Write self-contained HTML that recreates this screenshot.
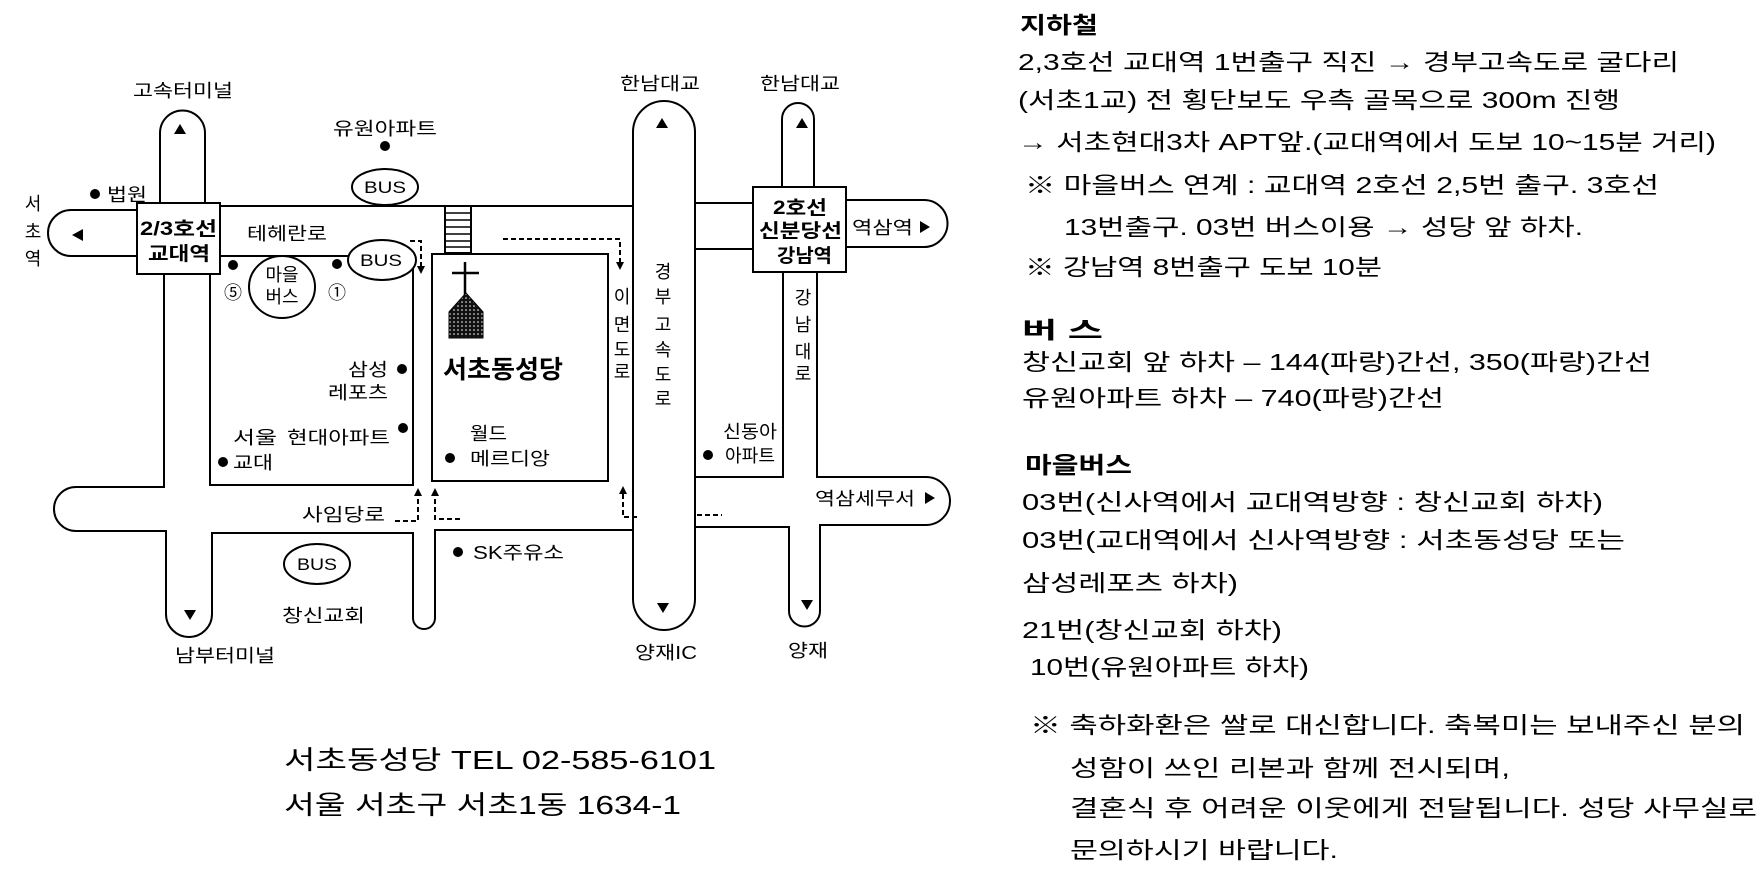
<!DOCTYPE html>
<html><head><meta charset="utf-8"><style>
html,body{margin:0;padding:0;background:#fff;}
svg{display:block;}
text{font-family:"Liberation Sans","Noto Sans CJK KR",sans-serif;fill:#000;}
</style></head><body>
<svg width="1764" height="881" viewBox="0 0 1764 881" xmlns="http://www.w3.org/2000/svg">
<defs>
<pattern id="dots" width="4" height="4" patternUnits="userSpaceOnUse"><rect width="4" height="4" fill="#111"/><circle cx="2" cy="2" r="0.8" fill="#fff"/></pattern>
</defs>
<g fill="none" stroke="#000" stroke-width="2">
<!-- top-left stub -->
<path d="M160,203 L160,133 A22.5,22.5 0 0 1 205,133 L205,203"/>
<!-- left stub -->
<path d="M137,210 L71,210 A23,23 0 0 0 71,256 L137,256"/>
<!-- top road top edge -->
<path d="M220,206 L633,206"/>
<!-- block1 -->
<rect x="210" y="256" width="203" height="229"/>
<!-- vertical road left edge and 사임당로 -->
<path d="M164,274 L164,487 L76,487 A22,22 0 0 0 76,531 L166,531 L166,614 A23,23 0 0 0 212,614 L212,533 L413,533 L413,618 A11,11 0 0 0 435,618 L435,530 L633,530"/>
<!-- church block -->
<rect x="432" y="254" width="176" height="227"/>
<!-- crosswalk -->
<rect x="445" y="206" width="26" height="47"/>
<path d="M445,213 H471 M445,220 H471 M445,227 H471 M445,234 H471 M445,241 H471 M445,247 H471" stroke-width="1.5"/>
<!-- highway -->
<rect x="633" y="101" width="62" height="529" rx="31" ry="31"/>
<!-- right top road -->
<path d="M695,203 L753,203 M695,249 L753,249 L783,249 M783,272 L783,477 L695,477"/>
<!-- gangnam top stub -->
<path d="M782,187 L782,119 A16,16 0 0 1 814,119 L814,187"/>
<!-- 역삼역 stub -->
<path d="M846,200 L924,200 A23.5,23.5 0 0 1 924,247 L846,247"/>
<!-- gangnam below -->
<path d="M817,272 L817,477 L926,477 A24,24 0 0 1 926,525 L820,525 L820,611 A15.5,15.5 0 0 1 789,611 L789,527 L695,527"/>
</g>
<!-- boxes -->
<rect x="137" y="203" width="83" height="71" fill="#fff" stroke="#000" stroke-width="2"/>
<rect x="753" y="187" width="93" height="85" fill="#fff" stroke="#000" stroke-width="2"/>
<!-- ellipses -->
<g fill="#fff" stroke="#000" stroke-width="2">
<ellipse cx="385" cy="187" rx="33" ry="18"/>
<ellipse cx="382" cy="260" rx="34" ry="20"/>
<ellipse cx="317" cy="564" rx="33" ry="20"/>
<ellipse cx="282" cy="287" rx="33" ry="31"/>
</g>
<!-- dashed arrows -->
<g fill="none" stroke="#000" stroke-width="2" stroke-dasharray="5,3">
<path d="M410,241 H421 V266"/>
<path d="M503,239 H620 V262"/>
<path d="M395,521 H418 V496"/>
<path d="M460,519 H435 V496"/>
<path d="M637,517 H623 V494"/>
<path d="M697,515 H722"/>
</g>
<g fill="#000">
<polygon points="417,266 425,266 421,274"/>
<polygon points="616,262 624,262 620,270"/>
<polygon points="414,496 422,496 418,488"/>
<polygon points="431,496 439,496 435,488"/>
<polygon points="619,494 627,494 623,486"/>
<!-- road arrows -->
<polygon points="174,134 186,134 180,124"/>
<polygon points="83,229 83,241 72,235"/>
<polygon points="656,128 668,128 662,118"/>
<polygon points="796,128 808,128 802,118"/>
<polygon points="184,610 196,610 190,620"/>
<polygon points="657,603 669,603 663,613"/>
<polygon points="801,600 813,600 807,610"/>
<polygon points="920,221 920,233 930,227"/>
<polygon points="925,492 925,504 935,498"/>
<!-- dots -->
<circle cx="385" cy="146" r="5"/>
<circle cx="95" cy="194" r="5"/>
<circle cx="233" cy="265" r="5"/>
<circle cx="337" cy="264" r="5"/>
<circle cx="402" cy="369" r="5"/>
<circle cx="403" cy="428" r="5"/>
<circle cx="223" cy="462" r="5"/>
<circle cx="450" cy="458" r="5"/>
<circle cx="708" cy="455" r="5"/>
<circle cx="458" cy="552" r="5"/>
</g>
<!-- church -->
<path d="M465,262 V296 M452,273 H479" stroke="#000" stroke-width="2.5"/>
<polygon points="466,293 483,312 483,338 449,338 449,312" fill="url(#dots)" stroke="#000" stroke-width="1"/>

<!-- map labels -->
<g font-size="18">
<text x="133" y="97" textLength="100" lengthAdjust="spacingAndGlyphs">고속터미널</text>
<text x="333" y="135" textLength="104" lengthAdjust="spacingAndGlyphs">유원아파트</text>
<text x="107" y="201" textLength="40" lengthAdjust="spacingAndGlyphs">법원</text>
<text x="33" y="210" text-anchor="middle">서</text>
<text x="33" y="238" text-anchor="middle">초</text>
<text x="33" y="265" text-anchor="middle">역</text>
<text x="247" y="240" textLength="80" lengthAdjust="spacingAndGlyphs">테헤란로</text>
<text x="282" y="281" text-anchor="middle">마을</text>
<text x="282" y="303" text-anchor="middle">버스</text>
<text x="233" y="299" text-anchor="middle">⑤</text>
<text x="337" y="299" text-anchor="middle">①</text>
<text x="348" y="376" textLength="40" lengthAdjust="spacingAndGlyphs">삼성</text>
<text x="328" y="399" textLength="60" lengthAdjust="spacingAndGlyphs">레포츠</text>
<text x="233" y="444" textLength="44" lengthAdjust="spacingAndGlyphs">서울</text>
<text x="287" y="444" textLength="103" lengthAdjust="spacingAndGlyphs">현대아파트</text>
<text x="233" y="469" textLength="40" lengthAdjust="spacingAndGlyphs">교대</text>
<text x="302" y="521" textLength="83" lengthAdjust="spacingAndGlyphs">사임당로</text>
<text x="282" y="622" textLength="83" lengthAdjust="spacingAndGlyphs">창신교회</text>
<text x="175" y="662" textLength="100" lengthAdjust="spacingAndGlyphs">남부터미널</text>
<text x="473" y="559" textLength="91" lengthAdjust="spacingAndGlyphs">SK주유소</text>
<text x="635" y="659" textLength="62" lengthAdjust="spacingAndGlyphs">양재IC</text>
<text x="788" y="657" textLength="40" lengthAdjust="spacingAndGlyphs">양재</text>
<text x="620" y="90" textLength="80" lengthAdjust="spacingAndGlyphs">한남대교</text>
<text x="760" y="90" textLength="80" lengthAdjust="spacingAndGlyphs">한남대교</text>
<text x="470" y="440" textLength="37" lengthAdjust="spacingAndGlyphs">월드</text>
<text x="470" y="465" textLength="80" lengthAdjust="spacingAndGlyphs">메르디앙</text>
<text x="723" y="438" textLength="54" lengthAdjust="spacingAndGlyphs">신동아</text>
<text x="725" y="462" textLength="50" lengthAdjust="spacingAndGlyphs">아파트</text>
<text x="852" y="234" textLength="61" lengthAdjust="spacingAndGlyphs">역삼역</text>
<text x="815" y="505" textLength="100" lengthAdjust="spacingAndGlyphs">역삼세무서</text>
<text x="622" y="303" text-anchor="middle">이</text>
<text x="622" y="331" text-anchor="middle">면</text>
<text x="622" y="356" text-anchor="middle">도</text>
<text x="622" y="378" text-anchor="middle">로</text>
<text x="663" y="278" text-anchor="middle">경</text>
<text x="663" y="303" text-anchor="middle">부</text>
<text x="663" y="331" text-anchor="middle">고</text>
<text x="663" y="356" text-anchor="middle">속</text>
<text x="663" y="381" text-anchor="middle">도</text>
<text x="663" y="405" text-anchor="middle">로</text>
<text x="803" y="304" text-anchor="middle">강</text>
<text x="803" y="331" text-anchor="middle">남</text>
<text x="803" y="358" text-anchor="middle">대</text>
<text x="803" y="380" text-anchor="middle">로</text>
</g>
<g font-size="17">
<text x="385" y="193" text-anchor="middle" textLength="42" lengthAdjust="spacingAndGlyphs">BUS</text>
<text x="381" y="266" text-anchor="middle" textLength="42" lengthAdjust="spacingAndGlyphs">BUS</text>
<text x="317" y="570" text-anchor="middle" textLength="40" lengthAdjust="spacingAndGlyphs">BUS</text>
</g>
<g font-size="19" font-weight="bold">
<text x="140" y="235" textLength="77" lengthAdjust="spacingAndGlyphs">2/3호선</text>
<text x="148" y="260" textLength="62" lengthAdjust="spacingAndGlyphs">교대역</text>
<text x="773" y="214" textLength="54" lengthAdjust="spacingAndGlyphs">2호선</text>
<text x="759" y="237" textLength="83" lengthAdjust="spacingAndGlyphs">신분당선</text>
<text x="777" y="262" textLength="55" lengthAdjust="spacingAndGlyphs">강남역</text>
</g>
<text x="443" y="378" font-size="25" font-weight="bold" textLength="120" lengthAdjust="spacingAndGlyphs">서초동성당</text>

<!-- bottom-left -->
<g font-size="26">
<text x="284" y="769" textLength="432" lengthAdjust="spacingAndGlyphs">서초동성당  TEL 02-585-6101</text>
<text x="284" y="814" textLength="397" lengthAdjust="spacingAndGlyphs">서울 서초구 서초1동 1634-1</text>
</g>

<!-- right text -->
<g font-size="23">
<text x="1020" y="33" font-weight="bold" textLength="78" lengthAdjust="spacingAndGlyphs">지하철</text>
<text x="1018" y="70" textLength="661" lengthAdjust="spacingAndGlyphs">2,3호선 교대역 1번출구 직진 → 경부고속도로 굴다리</text>
<text x="1018" y="108" textLength="602" lengthAdjust="spacingAndGlyphs">(서초1교) 전 횡단보도 우측 골목으로 300m 진행</text>
<text x="1018" y="150" textLength="698" lengthAdjust="spacingAndGlyphs">→ 서초현대3차 APT앞.(교대역에서 도보 10~15분 거리)</text>
<text x="1025" y="193" textLength="634" lengthAdjust="spacingAndGlyphs">※ 마을버스 연계 : 교대역 2호선 2,5번 출구. 3호선</text>
<text x="1064" y="235" textLength="519" lengthAdjust="spacingAndGlyphs">13번출구. 03번 버스이용 → 성당 앞 하차.</text>
<text x="1025" y="275" textLength="357" lengthAdjust="spacingAndGlyphs">※ 강남역 8번출구 도보 10분</text>
<text x="1022" y="338" font-weight="bold" textLength="81" lengthAdjust="spacingAndGlyphs">버   스</text>
<text x="1022" y="370" textLength="630" lengthAdjust="spacingAndGlyphs">창신교회 앞 하차 – 144(파랑)간선, 350(파랑)간선</text>
<text x="1022" y="406" textLength="422" lengthAdjust="spacingAndGlyphs">유원아파트 하차 – 740(파랑)간선</text>
<text x="1025" y="473" font-weight="bold" textLength="107" lengthAdjust="spacingAndGlyphs">마을버스</text>
<text x="1022" y="510" textLength="581" lengthAdjust="spacingAndGlyphs">03번(신사역에서 교대역방향 : 창신교회 하차)</text>
<text x="1022" y="548" textLength="603" lengthAdjust="spacingAndGlyphs">03번(교대역에서 신사역방향 : 서초동성당 또는</text>
<text x="1022" y="591" textLength="216" lengthAdjust="spacingAndGlyphs">삼성레포츠 하차)</text>
<text x="1022" y="638" textLength="260" lengthAdjust="spacingAndGlyphs">21번(창신교회 하차)</text>
<text x="1030" y="675" textLength="279" lengthAdjust="spacingAndGlyphs">10번(유원아파트 하차)</text>
<text x="1030" y="733" textLength="715" lengthAdjust="spacingAndGlyphs">※ 축하화환은 쌀로 대신합니다. 축복미는 보내주신 분의</text>
<text x="1070" y="776" textLength="440" lengthAdjust="spacingAndGlyphs">성함이 쓰인 리본과 함께 전시되며,</text>
<text x="1070" y="816" textLength="687" lengthAdjust="spacingAndGlyphs">결혼식 후 어려운 이웃에게 전달됩니다. 성당 사무실로</text>
<text x="1070" y="858" textLength="268" lengthAdjust="spacingAndGlyphs">문의하시기 바랍니다.</text>
</g>
</svg>
</body></html>
